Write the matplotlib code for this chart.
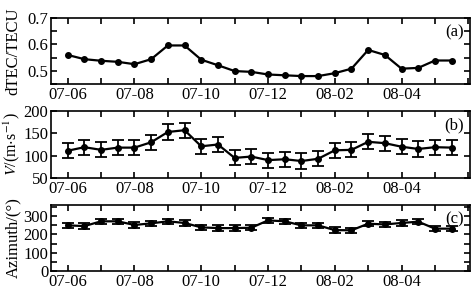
import matplotlib
matplotlib.use("Agg")
import matplotlib.pyplot as plt
import numpy as np
from matplotlib.ticker import MultipleLocator

plt.rcParams['font.family'] = ['Liberation Serif', 'DejaVu Serif']
plt.rcParams['mathtext.fontset'] = 'stix'

# two samples per day, labels every other day
tick_labels = ["07-06", "07-08", "07-10", "07-12", "08-02", "08-04"]
x = np.arange(24)

dtec = [0.560, 0.544, 0.538, 0.534, 0.525, 0.544, 0.596, 0.596, 0.542, 0.521,
        0.499, 0.496, 0.486, 0.483, 0.480, 0.480, 0.491, 0.508, 0.579, 0.560,
        0.508, 0.511, 0.539, 0.539]

speed = [111, 119, 113, 118, 118, 130, 153, 157, 121, 125,
         95, 98, 90, 92, 88, 93, 112, 113, 131, 128,
         120, 115, 119, 118]
speed_err = [17, 17, 17, 17, 17, 17, 17, 17, 17, 17,
             17, 17, 17, 17, 17, 17, 17, 17, 17, 17,
             17, 17, 17, 17]

azimuth = [249, 245, 271, 271, 251, 260, 271, 262, 238, 234,
           234, 236, 276, 271, 249, 249, 223, 222, 258, 254,
           262, 269, 231, 231]
azimuth_err = [15] * 24

fig = plt.figure(figsize=(4.71, 2.91), dpi=100)
W, H = 471.0, 291.0
def box(top, bottom):
    return [51 / W, 1 - bottom / H, (470 - 51) / W, (bottom - top) / H]

ax1 = fig.add_axes(box(18, 84))
ax2 = fig.add_axes(box(111, 178))
ax3 = fig.add_axes(box(205, 271))

lw = 1.6
ax1.plot(x, dtec, color='black', lw=lw, marker='o', ms=4)
ax2.errorbar(x, speed, yerr=speed_err, color='black', lw=lw, marker='o', ms=4,
             capsize=4, elinewidth=1.3, capthick=1.3)
ax3.errorbar(x, azimuth, yerr=azimuth_err, color='black', lw=lw, marker='o', ms=4,
             capsize=4, elinewidth=1.3, capthick=1.3)

ax1.set_ylim(0.45, 0.7)
ax1.set_yticks([0.5, 0.6, 0.7])
ax1.yaxis.set_minor_locator(MultipleLocator(0.05))
ax2.set_ylim(50, 200)
ax2.set_yticks([50, 100, 150, 200])
ax3.set_ylim(0, 360)
ax3.set_yticks([0, 100, 200, 300])
ax3.yaxis.set_minor_locator(MultipleLocator(50))

ax1.set_ylabel("dTEC/TECU", fontsize=12)
ax2.set_ylabel(r"$V$/(m$\cdot$s$^{-1}$)", fontsize=11.5)
ax3.set_ylabel("Azimuth/(°)", fontsize=12)

for ax, lab in zip([ax1, ax2, ax3], ["(a)", "(b)", "(c)"]):
    ax.set_xlim(-1, 24.1)
    ax.set_xticks(np.arange(0, 24, 4))
    ax.set_xticklabels(tick_labels)
    ax.xaxis.set_minor_locator(MultipleLocator(2))
    ax.tick_params(which='both', direction='in', top=True, right=True,
                   labelsize=12, width=1.2, pad=2)
    ax.tick_params(which='major', length=4)
    ax.tick_params(which='minor', length=4)
    for s in ax.spines.values():
        s.set_linewidth(1.2)
    ax.yaxis.set_label_coords(-0.07, 0.5)
    ax.text(0.985, 0.9, lab, transform=ax.transAxes, ha='right', va='top',
            fontsize=12)

fig.savefig("out.png", dpi=100)
